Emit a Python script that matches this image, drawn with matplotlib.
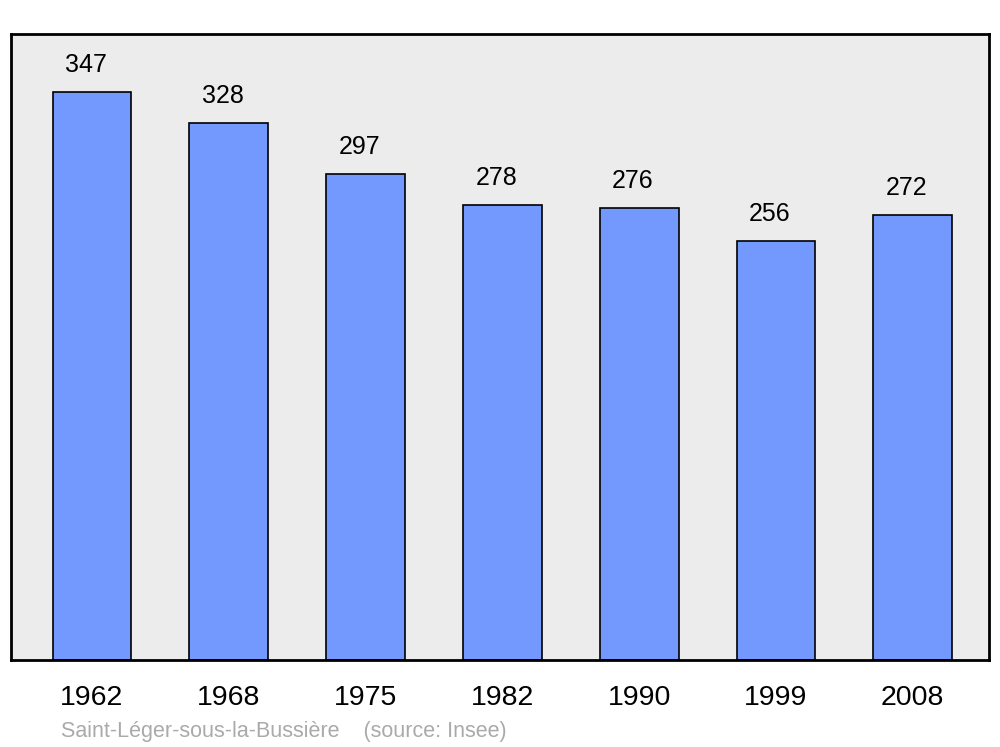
import matplotlib
matplotlib.use("Agg")
import matplotlib.pyplot as plt

years = ["1962", "1968", "1975", "1982", "1990", "1999", "2008"]
population = [347, 328, 297, 278, 276, 256, 272]
commune = "Saint-Léger-sous-la-Bussière"
source = "(source: Insee)"

plt.rcParams['font.family'] = ['Liberation Sans', 'DejaVu Sans']

fig = plt.figure(figsize=(10, 7.47), dpi=100)
ax = fig.add_axes([0.011, 1 - 660 / 747, 0.978, 626 / 747])
ax.set_facecolor('#ececec')

x = list(range(len(years)))
ax.bar(x, population, width=0.575, color='#7399ff', edgecolor='black', linewidth=1.2, zorder=2)

for xi, v in zip(x, population):
    ax.text(xi - 0.045, v + 9, str(v), ha='center', va='bottom', fontsize=18)

ax.set_xlim(-0.592, 6.557)
ax.set_ylim(0, 382.4)
ax.set_yticks([])
ax.set_xticks(x)
ax.set_xticklabels(years, fontsize=20.5)
ax.tick_params(axis='x', length=0, pad=18)
for s in ax.spines.values():
    s.set_linewidth(2)

fig.text(0.061, 1 - 732 / 747, commune + "    " + source, fontsize=15.5, color='#aaaaaa', va='center')

fig.savefig('out.png', dpi=100)
